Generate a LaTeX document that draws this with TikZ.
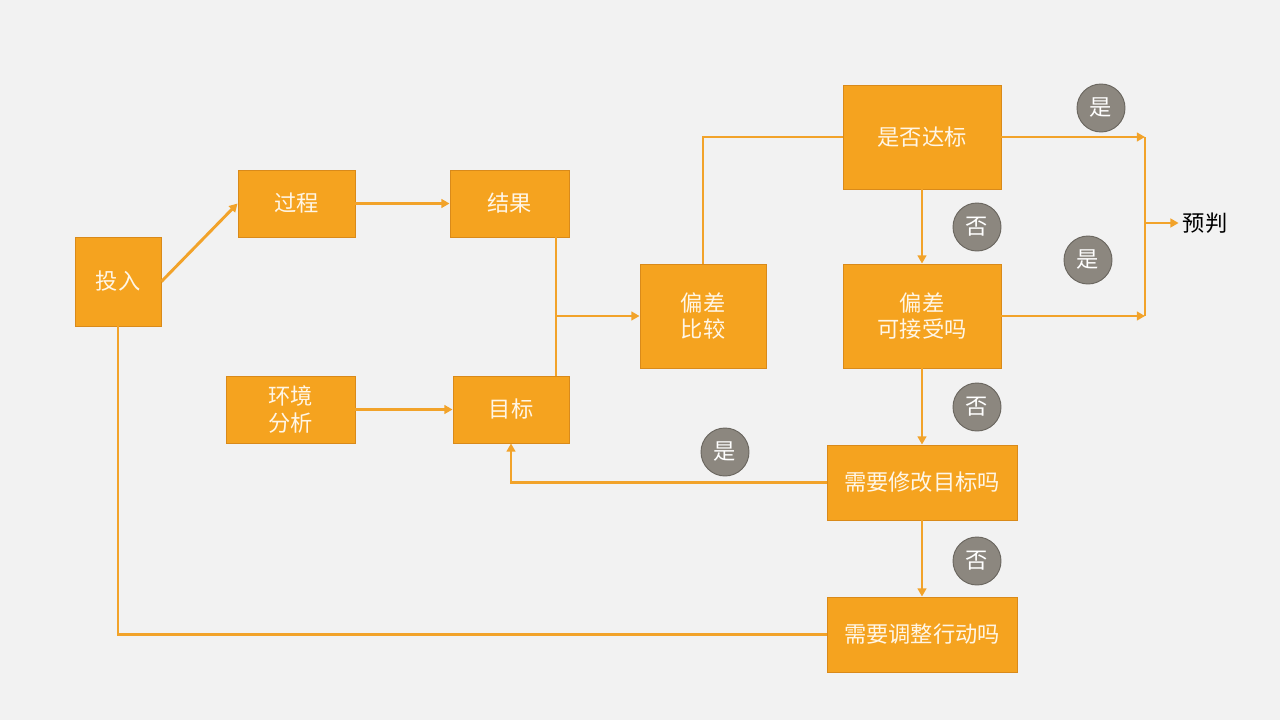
\documentclass[tikz,border=0pt]{standalone}
\usepackage{fontspec}
\usepackage{tikz}
\usetikzlibrary{arrows.meta}
\newfontfamily\cjk{Noto Sans CJK SC}
\definecolor{bg}{HTML}{F2F2F2}
\definecolor{org}{HTML}{F5A31F}
\definecolor{orgline}{HTML}{D98A1A}
\definecolor{conn}{HTML}{F2A32A}
\definecolor{txt}{HTML}{FFF6E6}
\definecolor{gry}{HTML}{8C877F}
\definecolor{gryline}{HTML}{6B6760}

\begin{document}
\begin{tikzpicture}[x = 0.03cm, y = -0.03cm,
                    font = \cjk\fontsize{19}{23}\selectfont,
                    box/.style = {rectangle, draw = orgline, line width = 0.8pt, fill = org,
                                  text = txt, inner sep = 0pt, align = center},
                    tag/.style = {circle, draw = gryline, line width = 0.8pt, fill = gry,
                                  text = white, minimum size = 1.44cm, inner sep = 0pt},
                    link/.style = {draw = conn, line width = 2.5pt},
                    arr/.style = {link, -{Triangle[length = 7pt, width = 7.5pt]}}]
      \useasboundingbox [fill = bg] (0, 0) rectangle (1280, 720);
      % boxes
      \node [box, minimum width = 2.58cm, minimum height = 2.67cm] (in) at (118, 281.5){投入};
      \node [box, minimum width = 3.51cm, minimum height = 2.01cm] (proc) at (296.5, 203.5){过程};
      \node [box, minimum width = 3.57cm, minimum height = 2.01cm] (res) at (509.5, 203.5){结果};
      \node [box, minimum width = 3.87cm, minimum height = 2.01cm] (env) at (290.5, 409.5){环境\\分析};
      \node [box, minimum width = 3.48cm, minimum height = 2.01cm] (goal) at (511, 409.5){目标};
      \node [box, minimum width = 3.78cm, minimum height = 3.12cm] (cmp) at (703, 316){偏差\\比较};
      \node [box, minimum width = 4.74cm, minimum height = 3.12cm] (ok) at (922, 137){是否达标};
      \node [box, minimum width = 4.74cm, minimum height = 3.12cm] (acc) at (922, 316){偏差\\可接受吗};
      \node [box, minimum width = 5.7cm, minimum height = 2.25cm] (mod) at (922, 482.5){需要修改目标吗};
      \node [box, minimum width = 5.7cm, minimum height = 2.25cm] (act) at (922, 634.5){需要调整行动吗};
      \node (pre) at (1205, 223){预判};
      % answers
      \node [tag] (y1) at (1101, 108){是};
      \node [tag] (n1) at (977, 227){否};
      \node [tag] (y2) at (1088, 260){是};
      \node [tag] (n2) at (977, 407){否};
      \node [tag] (y3) at (725, 452){是};
      \node [tag] (n3) at (977, 561){否};
      % joints
      \coordinate (j) at (556, 316);
      \coordinate (m) at (1145, 223);
      % connectors
      \draw [arr] (in.east) -- (proc.west);
      \draw [arr] (proc) -- (res);
      \draw [arr] (env) -- (goal);
      \draw [link] (res.south -| j) -- (goal.north -| j);
      \draw [arr] (j) -- (cmp.west);
      \draw [link] (cmp.north) |- (ok.west);
      \draw [arr] (ok.east) -- (ok.east -| m);
      \draw [arr] (acc.east) -- (acc.east -| m);
      \draw [link] (ok.east -| m) -- (acc.east -| m);
      \draw [arr] (m) -- (pre.west);
      \draw [arr] (ok) -- (acc);
      \draw [arr] (acc) -- (mod);
      \draw [arr] (mod) -- (act);
      \draw [arr] (mod.west) -| (goal.south);
      \draw [link] (act.west) -| (in.south);
    \end{tikzpicture}
\end{document}
